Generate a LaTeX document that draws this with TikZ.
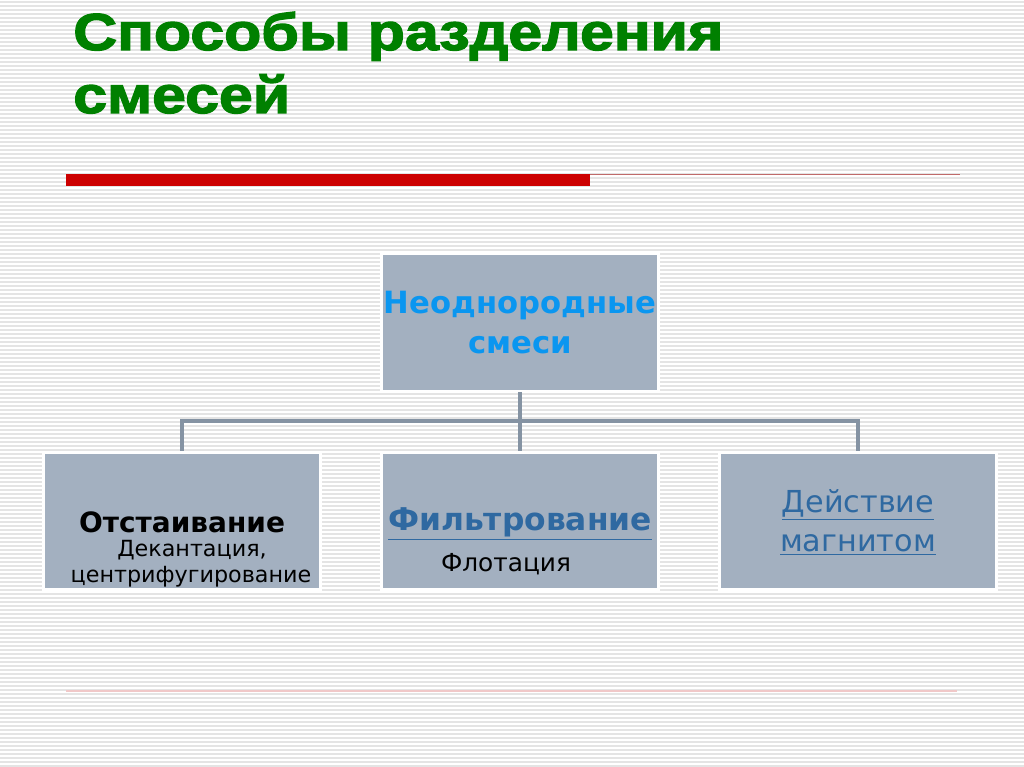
\documentclass[tikz,border=0pt]{standalone}
\usepackage{fontspec}
\setmainfont{DejaVu Sans}
\newfontfamily\titlefont{Liberation Sans}[FakeStretch=1.17,FakeBold=2.5]
\usetikzlibrary{calc,positioning}
\definecolor{boxfill}{HTML}{A3B0C0}
\definecolor{connc}{HTML}{8593A3}
\definecolor{titlegreen}{HTML}{008000}
\definecolor{headblue}{HTML}{0A96F0}
\definecolor{linkblue}{HTML}{2F69A1}
\definecolor{barred}{HTML}{CC0000}
\definecolor{thinred}{HTML}{C06A6A}
\definecolor{palered}{HTML}{F0C8C8}
\definecolor{stripe}{HTML}{E4E4E4}

\begin{document}
\begin{tikzpicture}[x=0.75pt,y=-0.75pt,
  box/.style={draw=white,line width=1.2pt,fill=boxfill,minimum width=207pt,minimum height=102pt,inner sep=0pt},
  conn/.style={draw=connc,line width=2.5pt},
  lbl/.style={inner sep=0pt,align=center}]
\useasboundingbox (0,0) rectangle (1024,767);
\fill[white] (0,0) rectangle (1024,767);
\foreach \y in {2,6,...,766}
	\draw[stripe,line width=0.8pt] (0,\y) -- (1024,\y);

% title
\node[lbl,anchor=base west,text=titlegreen,font=\titlefont\bfseries\fontsize{39}{48}\selectfont] (t1) at (73,50) {Способы разделения};
\node[lbl,anchor=base west,text=titlegreen,font=\titlefont\bfseries\fontsize{39}{48}\selectfont] (t2) at (73,113) {смесей};

\coordinate (R1) at (66,180);
\coordinate (R2) at (590,180);
\coordinate (R3) at (960,174.5);
\coordinate (B1) at (66,691);
\coordinate (B2) at (957,691);
\draw[barred,line width=9pt] (R1) -- (R2);
\draw[thinred,line width=1pt] ($(R2)+(0,-5.5)$) -- (R3);
\draw[palered,line width=1.5pt] (B1) -- (B2);

% boxes
\node[box] (top) at (520,322.5) {};
\node[box] (left) at (182,521) {};
\node[box] (mid) at (520,521) {};
\node[box] (right) at (858,521) {};

\coordinate (bus) at (520,421);
\draw[conn] (top.south) -- (bus);
\draw[conn] (left.north) |- (bus) -| (right.north);
\draw[conn] (bus) -- (mid.north);
\foreach \b in {top,left,mid,right}
	\draw[white,line width=1.2pt] (\b.south west) rectangle (\b.north east);

% labels
\node[lbl,text=headblue,font=\bfseries\fontsize{23}{29}\selectfont] (topA) at (520,306) {Неоднородные};
\node[lbl,text=headblue,font=\bfseries\fontsize{23}{29}\selectfont] (topB) at (520,345) {смеси};
\node[lbl,font=\bfseries\fontsize{21}{26}\selectfont] (leftA) at (182,522) {Отстаивание};
\node[lbl,font=\fontsize{16.7}{20}\selectfont] (leftB) at (192,550) {Декантация,};
\node[lbl,font=\fontsize{16.7}{20}\selectfont] (leftC) at (191,577) {центрифугирование};
\node[lbl,text=linkblue,font=\bfseries\fontsize{23.5}{28}\selectfont] (midA) at (520,524) {\underline{Фильтрование}};
\node[lbl,font=\fontsize{18.6}{22}\selectfont] (midB) at (506,564) {Флотация};
\node[lbl,text=linkblue,font=\fontsize{22.7}{28}\selectfont] (rightA) at (858,505) {\underline{Действие}};
\node[lbl,text=linkblue,font=\fontsize{22.7}{28}\selectfont] (rightB) at (858,545) {\underline{магнитом}};
\end{tikzpicture}
\end{document}
